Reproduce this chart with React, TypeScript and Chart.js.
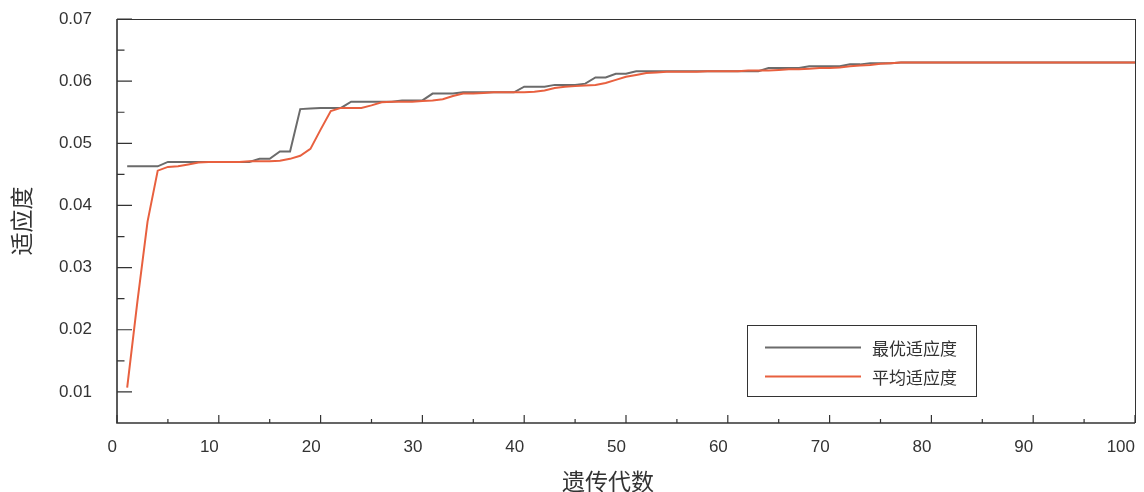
import React, { useEffect, useRef } from 'react';
import { Chart, registerables } from 'chart.js';

Chart.register(...registerables);

const generations = [
  1, 2, 3, 4, 5, 6, 7, 8, 9, 10, 11, 12, 13, 14, 15, 16, 17, 18, 19, 20,
  21, 22, 23, 24, 25, 26, 27, 28, 29, 30, 31, 32, 33, 34, 35, 36, 37, 38, 39, 40,
  41, 42, 43, 44, 45, 46, 47, 48, 49, 50, 51, 52, 53, 54, 55, 56, 57, 58, 59, 60,
  61, 62, 63, 64, 65, 66, 67, 68, 69, 70, 71, 72, 73, 74, 75, 76, 77, 78, 79, 80,
  81, 82, 83, 84, 85, 86, 87, 88, 89, 90, 91, 92, 93, 94, 95, 96, 97, 98, 99, 100,
];

const bestFitness = [
  0.0463, 0.0463, 0.0463, 0.0463, 0.0470, 0.0470, 0.0470, 0.0470, 0.0470, 0.0470,
  0.0470, 0.0470, 0.0470, 0.0475, 0.0475, 0.0487, 0.0487, 0.0555, 0.0556, 0.0557,
  0.0557, 0.0557, 0.0567, 0.0567, 0.0567, 0.0567, 0.0567, 0.0569, 0.0569, 0.0569,
  0.0580, 0.0580, 0.0580, 0.0582, 0.0582, 0.0582, 0.0582, 0.0582, 0.0582, 0.0591,
  0.0591, 0.0591, 0.0594, 0.0594, 0.0594, 0.0596, 0.0606, 0.0606, 0.0612, 0.0612,
  0.0616, 0.0616, 0.0616, 0.0616, 0.0616, 0.0616, 0.0616, 0.0616, 0.0616, 0.0616,
  0.0616, 0.0616, 0.0616, 0.0621, 0.0621, 0.0621, 0.0621, 0.0624, 0.0624, 0.0624,
  0.0624, 0.0627, 0.0627, 0.0629, 0.0629, 0.0629, 0.0630, 0.0630, 0.0630, 0.0630,
  0.0630, 0.0630, 0.0630, 0.0630, 0.0630, 0.0630, 0.0630, 0.0630, 0.0630, 0.0630,
  0.0630, 0.0630, 0.0630, 0.0630, 0.0630, 0.0630, 0.0630, 0.0630, 0.0630, 0.0630,
];

const avgFitness = [
  0.0107, 0.0245, 0.0374, 0.0456, 0.0462, 0.0463, 0.0466, 0.0469, 0.0470, 0.0470,
  0.0470, 0.0470, 0.0471, 0.0471, 0.0471, 0.0472, 0.0475, 0.0480, 0.0491, 0.0522,
  0.0552, 0.0557, 0.0557, 0.0557, 0.0561, 0.0566, 0.0567, 0.0567, 0.0567, 0.0568,
  0.0569, 0.0571, 0.0576, 0.0580, 0.0580, 0.0581, 0.0582, 0.0582, 0.0582, 0.0582,
  0.0583, 0.0585, 0.0589, 0.0591, 0.0592, 0.0593, 0.0594, 0.0597, 0.0602, 0.0607,
  0.0610, 0.0613, 0.0614, 0.0615, 0.0615, 0.0615, 0.0615, 0.0616, 0.0616, 0.0616,
  0.0616, 0.0617, 0.0617, 0.0617, 0.0618, 0.0619, 0.0619, 0.0620, 0.0621, 0.0621,
  0.0622, 0.0624, 0.0625, 0.0626, 0.0628, 0.0629, 0.0630, 0.0630, 0.0630, 0.0630,
  0.0630, 0.0630, 0.0630, 0.0630, 0.0630, 0.0630, 0.0630, 0.0630, 0.0630, 0.0630,
  0.0630, 0.0630, 0.0630, 0.0630, 0.0630, 0.0630, 0.0630, 0.0630, 0.0630, 0.0630,
];

const seriesNames = ['最优适应度', '平均适应度'];
const xAxisTitle = '遗传代数';
const yAxisTitle = '适应度';

const xMajorTicks = [0, 10, 20, 30, 40, 50, 60, 70, 80, 90, 100];
const xMinorTicks = [5, 15, 25, 35, 45, 55, 65, 75, 85, 95];
const yMajorTicks = [0.01, 0.02, 0.03, 0.04, 0.05, 0.06, 0.07];
const yMinorTicks = [0.015, 0.025, 0.035, 0.045, 0.055, 0.065];

const GRAY = '#6b6b6b';
const RED = '#e8603f';
const AXIS = '#333333';
const TEXT = '#333333';
const LATIN = "'Liberation Sans', Arial, sans-serif";
const CJK = "'Noto Sans CJK SC', 'Noto Sans', sans-serif";
const CLEAR = 'rgba(0,0,0,0)';

const framePlugin = {
  id: 'frameTicks',
  beforeDatasetsDraw(chart: any) {
    const { ctx, chartArea: a, scales } = chart;
    const xs = scales.x;
    const ys = scales.y;
    ctx.save();
    ctx.strokeStyle = AXIS;
    ctx.lineWidth = 1;
    ctx.beginPath();
    ctx.moveTo(a.left, Math.round(a.top) + 0.5);
    ctx.lineTo(a.right, Math.round(a.top) + 0.5);
    ctx.moveTo(Math.round(a.right) + 0.5, a.top);
    ctx.lineTo(Math.round(a.right) + 0.5, a.bottom);
    ctx.stroke();
    ctx.lineWidth = 1.6;
    ctx.beginPath();
    ctx.moveTo(a.left, a.top);
    ctx.lineTo(a.left, a.bottom);
    ctx.lineTo(a.right, a.bottom);
    ctx.stroke();
    ctx.lineWidth = 1.2;
    ctx.beginPath();
    xMajorTicks.forEach((v) => {
      const px = xs.getPixelForValue(v);
      ctx.moveTo(px, a.bottom);
      ctx.lineTo(px, a.bottom - 8);
    });
    xMinorTicks.forEach((v) => {
      const px = xs.getPixelForValue(v);
      ctx.moveTo(px, a.bottom);
      ctx.lineTo(px, a.bottom - 4);
    });
    yMajorTicks.forEach((v) => {
      const py = ys.getPixelForValue(v);
      ctx.moveTo(a.left, py);
      ctx.lineTo(a.left + 15, py);
    });
    yMinorTicks.forEach((v) => {
      const py = ys.getPixelForValue(v);
      ctx.moveTo(a.left, py);
      ctx.lineTo(a.left + 7.5, py);
    });
    ctx.stroke();
    ctx.restore();
  },
  afterDatasetsDraw(chart: any) {
    const { ctx } = chart;
    ctx.save();
    ctx.fillStyle = '#ffffff';
    ctx.fillRect(748, 325, 229, 72);
    ctx.strokeStyle = AXIS;
    ctx.lineWidth = 1;
    ctx.strokeRect(747.5, 325.5, 229, 71);
    const rows = [
      { y: 347.5, color: GRAY, label: seriesNames[0] },
      { y: 376.5, color: RED, label: seriesNames[1] },
    ];
    rows.forEach((r) => {
      ctx.strokeStyle = r.color;
      ctx.lineWidth = 2;
      ctx.beginPath();
      ctx.moveTo(765, r.y);
      ctx.lineTo(861, r.y);
      ctx.stroke();
      ctx.fillStyle = TEXT;
      ctx.font = `17px ${CJK}`;
      ctx.textAlign = 'left';
      ctx.textBaseline = 'middle';
      ctx.fillText(r.label, 872, r.y + 1);
    });
    ctx.fillStyle = TEXT;
    ctx.font = `23px ${CJK}`;
    ctx.textAlign = 'center';
    ctx.textBaseline = 'middle';
    ctx.fillText(xAxisTitle, 608, 481);
    ctx.translate(21.5, 221);
    ctx.rotate(-Math.PI / 2);
    ctx.fillText(yAxisTitle, 0, 0);
    ctx.restore();
  },
};

export default function App() {
  const canvasRef = useRef<HTMLCanvasElement | null>(null);

  useEffect(() => {
    const canvas = canvasRef.current;
    if (!canvas) return;
    const chart = new Chart(canvas, {
      type: 'line',
      data: {
        datasets: [
          {
            label: seriesNames[0],
            data: generations.map((g, i) => ({ x: g, y: bestFitness[i] })),
            borderColor: GRAY,
            borderWidth: 2,
            pointRadius: 0,
            tension: 0,
            order: 1,
          },
          {
            label: seriesNames[1],
            data: generations.map((g, i) => ({ x: g, y: avgFitness[i] })),
            borderColor: RED,
            borderWidth: 2,
            pointRadius: 0,
            tension: 0,
            order: 0,
          },
        ],
      },
      options: {
        animation: false,
        responsive: false,
        maintainAspectRatio: false,
        events: [],
        layout: { padding: { left: 0, right: 9, top: 19, bottom: 0 } },
        plugins: {
          legend: { display: false },
          tooltip: { enabled: false },
          title: { display: false },
        },
        scales: {
          x: {
            type: 'linear',
            min: 0,
            max: 100,
            grid: { display: true, drawOnChartArea: false, drawTicks: true, tickLength: 14, color: CLEAR },
            border: { display: false },
            afterFit: (s: any) => {
              s.height = 69;
            },
            afterBuildTicks: (s: any) => {
              s.ticks = xMajorTicks.map((v) => ({ value: v }));
            },
            ticks: {
              align: 'end',
              padding: 0,
              maxRotation: 0,
              autoSkip: false,
              color: TEXT,
              font: { family: LATIN, size: 17 },
              callback: (v: any) => String(v),
            },
          },
          y: {
            type: 'linear',
            min: 0.005,
            max: 0.07,
            grid: { display: true, drawOnChartArea: false, drawTicks: true, tickLength: 25, color: CLEAR },
            border: { display: false },
            afterFit: (s: any) => {
              s.width = 117;
            },
            afterBuildTicks: (s: any) => {
              s.ticks = yMajorTicks.map((v) => ({ value: v }));
            },
            ticks: {
              padding: 0,
              autoSkip: false,
              color: TEXT,
              font: { family: LATIN, size: 17 },
              callback: (v: any) => Number(v).toFixed(2),
            },
          },
        },
      },
      plugins: [framePlugin],
    } as any);
    return () => chart.destroy();
  }, []);

  return (
    <div style={{ position: 'absolute', left: 0, top: 0, width: 1144, height: 492, background: '#fff' }}>
      <canvas ref={canvasRef} width={1144} height={492} style={{ display: 'block', width: 1144, height: 492 }} />
    </div>
  );
}
